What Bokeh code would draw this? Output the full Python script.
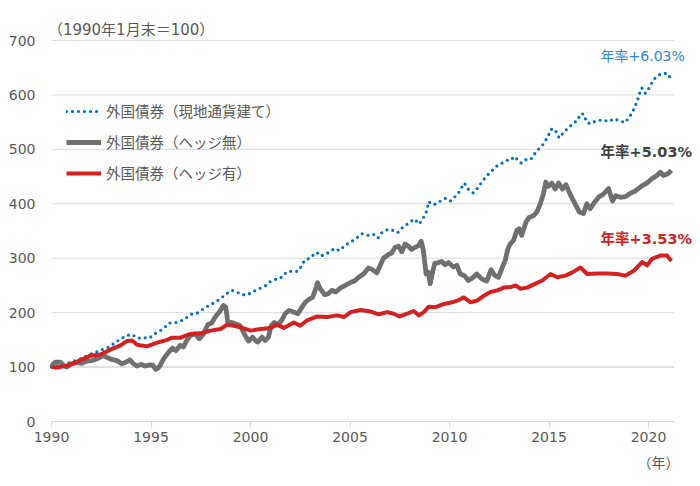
from bokeh.plotting import figure
from bokeh.models import Range1d, FixedTicker, Label, Legend, LegendItem
from bokeh.embed import file_html
from bokeh.resources import INLINE

# ---------------- data ----------------
blue_year = [1990.0, 1990.5, 1991.0, 1991.5, 1992.03, 1992.36, 1992.66, 1992.95, 1993.23, 1993.5,
             1993.79, 1994.04, 1994.34, 1994.62, 1994.91, 1995.18, 1995.46, 1995.68, 1995.91, 1996.18,
             1996.47, 1996.75, 1997.02, 1997.3, 1997.55, 1997.8, 1998.06, 1998.31, 1998.56, 1998.81,
             1999.06, 1999.31, 1999.56, 1999.86, 2000.15, 2000.49, 2000.74, 2000.99, 2001.24, 2001.49,
             2001.71, 2001.88, 2002.16, 2002.38, 2002.55, 2002.71, 2002.91, 2003.13, 2003.33, 2003.53,
             2003.78, 2004.0, 2004.22, 2004.46, 2004.71, 2004.92, 2005.23, 2005.6, 2005.93, 2006.18,
             2006.4, 2006.6, 2006.9, 2007.1, 2007.4, 2007.6, 2007.85, 2008.24, 2008.48, 2008.8,
             2008.9, 2008.95, 2009.2, 2009.45, 2009.78, 2010.05, 2010.3, 2010.47, 2010.64, 2010.75,
             2010.9, 2011.19, 2011.39, 2011.59, 2011.75, 2012.02, 2012.4, 2012.65, 2012.9, 2013.07,
             2013.25, 2013.6, 2013.82, 2014.07, 2014.4, 2014.66, 2014.82, 2014.99, 2015.08, 2015.24,
             2015.39, 2015.51, 2015.73, 2015.98, 2016.23, 2016.45, 2016.57, 2016.73, 2016.9, 2017.07,
             2017.4, 2017.74, 2017.99, 2018.24, 2018.53, 2018.83, 2019.0, 2019.16, 2019.3, 2019.42,
             2019.54, 2019.66, 2019.84, 2020.0, 2020.25, 2020.47, 2020.75, 2020.97, 2021.15]
blue_value = [100, 104, 109, 116, 125, 129, 134, 138, 146, 152,
              158, 160, 153, 154, 153, 161, 167, 173, 181, 181,
              184, 190, 197, 199, 205, 211, 216, 221, 228, 235,
              241, 238, 233, 233, 239, 245, 249, 257, 261, 263,
              271, 276, 276, 276, 285, 296, 299, 305, 311, 304,
              308, 312, 318, 314, 322, 328, 334, 345, 342, 344,
              337, 347, 353, 352, 347, 355, 362, 372, 363, 381,
              394, 404, 398, 403, 410, 405, 414, 421, 432, 438,
              428, 420, 428, 438, 446, 457, 470, 475, 480, 480,
              487, 475, 481, 481, 498, 507, 516, 527, 536, 538,
              531, 521, 531, 540, 548, 554, 565, 565, 550, 547,
              553, 554, 551, 556, 553, 549, 558, 566, 577, 587,
              602, 613, 603, 611, 628, 636, 640, 639, 627]

gray_year = [1990.0, 1990.1, 1990.2, 1990.44, 1990.6, 1990.77, 1991.02, 1991.27, 1991.52, 1991.77,
             1992.03, 1992.28, 1992.44, 1992.61, 1992.78, 1993.03, 1993.28, 1993.53, 1993.73, 1993.95,
             1994.12, 1994.29, 1994.5, 1994.7, 1994.96, 1995.1, 1995.24, 1995.35, 1995.46, 1995.63,
             1995.88, 1996.08, 1996.25, 1996.47, 1996.63, 1996.8, 1996.97, 1997.22, 1997.42, 1997.64,
             1997.85, 1998.05, 1998.23, 1998.43, 1998.64, 1998.76, 1998.86, 1999.06, 1999.26, 1999.48,
             1999.73, 1999.9, 2000.1, 2000.27, 2000.37, 2000.57, 2000.74, 2000.9, 2001.04, 2001.2,
             2001.37, 2001.57, 2001.74, 2001.94, 2002.16, 2002.38, 2002.58, 2002.78, 2002.95, 2003.12,
             2003.25, 2003.37, 2003.5, 2003.72, 2003.92, 2004.09, 2004.29, 2004.51, 2004.76, 2005.01,
             2005.26, 2005.43, 2005.68, 2005.93, 2006.13, 2006.35, 2006.52, 2006.68, 2006.9, 2007.1,
             2007.27, 2007.44, 2007.6, 2007.77, 2007.94, 2008.1, 2008.27, 2008.44, 2008.58, 2008.69,
             2008.78, 2008.82, 2008.94, 2009.03, 2009.15, 2009.25, 2009.45, 2009.61, 2009.78, 2009.95,
             2010.2, 2010.37, 2010.54, 2010.75, 2010.95, 2011.2, 2011.37, 2011.62, 2011.87, 2012.09,
             2012.26, 2012.46, 2012.63, 2012.8, 2012.93, 2013.05, 2013.22, 2013.38, 2013.5, 2013.63,
             2013.84, 2014.0, 2014.22, 2014.39, 2014.56, 2014.72, 2014.84, 2014.97, 2015.14, 2015.31,
             2015.48, 2015.68, 2015.85, 2016.02, 2016.18, 2016.35, 2016.52, 2016.73, 2016.9, 2017.07,
             2017.29, 2017.49, 2017.74, 2017.99, 2018.19, 2018.36, 2018.58, 2018.83, 2019.08, 2019.36,
             2019.63, 2019.91, 2020.17, 2020.42, 2020.59, 2020.75, 2020.97, 2021.15]
gray_value = [100, 106, 109, 109, 103, 100, 106, 108, 107, 111,
              112, 115, 118, 121, 118, 114, 112, 106, 109, 113,
              106, 102, 105, 102, 104, 103, 96, 98, 103, 115,
              127, 135, 130, 140, 137, 149, 158, 161, 152, 161,
              178, 181, 192, 201, 213, 210, 182, 182, 179, 176,
              158, 148, 155, 148, 146, 155, 149, 155, 176, 182,
              178, 186, 198, 204, 201, 198, 210, 220, 225, 228,
              241, 255, 244, 233, 235, 241, 238, 245, 250, 255,
              259, 265, 271, 282, 279, 273, 287, 300, 306, 310,
              320, 322, 312, 326, 322, 316, 320, 323, 331, 314,
              285, 271, 274, 253, 274, 290, 292, 294, 288, 292,
              284, 287, 271, 268, 259, 265, 271, 262, 258, 279,
              269, 265, 281, 296, 317, 326, 333, 351, 354, 342,
              366, 375, 378, 385, 400, 418, 440, 432, 438, 427,
              438, 427, 435, 421, 409, 397, 385, 382, 400, 391,
              403, 412, 418, 428, 405, 415, 412, 413, 419, 424,
              432, 438, 446, 452, 458, 452, 455, 461]

red_year = [1990.0, 1990.28, 1990.8, 1991.29, 1991.96, 1992.46, 1992.96, 1993.47, 1993.8, 1994.05,
            1994.3, 1994.8, 1995.31, 1995.81, 1996.06, 1996.48, 1996.98, 1997.49, 1997.99, 1998.49,
            1998.83, 1999.16, 1999.5, 2000.0, 2000.5, 2001.0, 2001.34, 2001.67, 2002.18, 2002.5,
            2002.85, 2003.35, 2003.85, 2004.36, 2004.7, 2005.03, 2005.53, 2006.03, 2006.45, 2006.87,
            2007.2, 2007.5, 2007.87, 2008.2, 2008.46, 2008.71, 2008.96, 2009.3, 2009.72, 2010.13,
            2010.39, 2010.72, 2011.06, 2011.39, 2011.72, 2012.06, 2012.4, 2012.73, 2013.07, 2013.32,
            2013.57, 2013.9, 2014.24, 2014.66, 2015.08, 2015.41, 2015.83, 2016.17, 2016.58, 2016.92,
            2017.42, 2017.92, 2018.42, 2018.84, 2019.26, 2019.68, 2019.93, 2020.18, 2020.6, 2020.93,
            2021.15]
red_value = [100, 99, 103, 110, 121, 123, 132, 140, 148, 149,
             141, 138, 145, 150, 154, 154, 161, 162, 167, 170,
             178, 176, 173, 167, 170, 172, 178, 172, 182, 176,
             186, 193, 192, 195, 192, 201, 205, 202, 197, 201,
             198, 193, 198, 203, 195, 201, 211, 210, 216, 219,
             222, 228, 219, 222, 231, 238, 241, 246, 247, 250,
             244, 246, 252, 259, 271, 265, 268, 274, 283, 271,
             272, 272, 271, 268, 277, 293, 287, 299, 305, 305,
             295]

series_names = ["外国債券（現地通貨建て）", "外国債券（ヘッジ無）", "外国債券（ヘッジ有）"]
rate_labels = ["年率+6.03%", "年率+5.03%", "年率+3.53%"]
x_ticks = [1990, 1995, 2000, 2005, 2010, 2015, 2020]
y_ticks = [0, 100, 200, 300, 400, 500, 600, 700]
base_value = 100
base_note = "（1990年1月末＝100）"
x_unit = "（年）"

# ---------------- styling ----------------
FONT = "DejaVu Sans, Noto Sans CJK JP"
TXT = "#595959"
GRID = "#d9d9d9"
X0, X1 = 1990, 2021.27          # extent of the axis / grid lines

# the frame covers the whole canvas; both axes are pinned inside it
p = figure(width=700, height=486, output_backend="svg", toolbar_location=None,
           x_range=Range1d(1987.437, 2022.613), y_range=Range1d(-119.4, 773.5),
           min_border_left=0, min_border_right=0, min_border_top=0, min_border_bottom=0)
p.outline_line_color = None
p.background_fill_color = "white"
p.border_fill_color = "white"
p.xgrid.grid_line_color = None
p.ygrid.grid_line_color = None

# horizontal grid lines limited to the plotting period
p.segment(x0=[X0] * len(y_ticks), y0=y_ticks, x1=[X1] * len(y_ticks), y1=y_ticks,
          line_color=GRID, line_width=1, level="underlay")
# slightly heavier reference line at the base value
p.segment(x0=[X0], y0=[base_value], x1=[X1], y1=[base_value],
          line_color="#e0e0e0", line_width=2, level="underlay")

p.xaxis.fixed_location = 0
p.xaxis.bounds = (X0, X1)
p.yaxis.fixed_location = X0
p.yaxis.bounds = (0, 700)
p.xaxis.ticker = FixedTicker(ticks=x_ticks)
p.yaxis.ticker = FixedTicker(ticks=y_ticks)
p.xaxis.axis_line_color = GRID
p.xaxis.major_tick_line_color = GRID
p.xaxis.major_tick_out = 6
p.xaxis.major_tick_in = 0
p.xaxis.minor_tick_line_color = None
p.xaxis.major_label_standoff = 4
p.yaxis.axis_line_color = None
p.yaxis.major_tick_line_color = None
p.yaxis.major_tick_out = 0
p.yaxis.major_tick_in = 0
p.yaxis.minor_tick_line_color = None
p.yaxis.major_label_standoff = 16
for ax in (p.xaxis, p.yaxis):
    ax.major_label_text_font = FONT
    ax.major_label_text_font_size = "14px"
    ax.major_label_text_color = TXT

r_blue = p.line(blue_year, blue_value, line_color="#0070c0", line_width=3.2,
                line_dash="0 6", line_cap="round")
r_gray = p.line(gray_year, gray_value, line_color="#707070", line_width=4.8, line_join="round")
r_red = p.line(red_year, red_value, line_color="#d42020", line_width=4, line_join="round")

legend = Legend(items=[LegendItem(label=series_names[0], renderers=[r_blue]),
                       LegendItem(label=series_names[1], renderers=[r_gray]),
                       LegendItem(label=series_names[2], renderers=[r_red])],
                location=(66, 303), orientation="vertical")
legend.background_fill_alpha = 0
legend.border_line_color = None
legend.padding = 0
legend.margin = 0
legend.spacing = 10
legend.glyph_width = 35
legend.glyph_height = 20
legend.label_height = 20
legend.label_standoff = 5
legend.label_text_font = FONT
legend.label_text_font_size = "14.5px"
legend.label_text_color = TXT
p.add_layout(legend)

p.add_layout(Label(x=2017.59, y=671, text=rate_labels[0], text_font=FONT, text_font_size="14px",
                   text_color="#2e86d4", text_baseline="middle"))
p.add_layout(Label(x=2017.59, y=495, text=rate_labels[1], text_font=FONT, text_font_size="14.5px",
                   text_font_style="bold", text_color="#404040", text_baseline="middle"))
p.add_layout(Label(x=2017.59, y=335, text=rate_labels[2], text_font=FONT, text_font_size="14.5px",
                   text_font_style="bold", text_color="#d42020", text_baseline="middle"))
p.add_layout(Label(x=1989.82, y=720, text=base_note, text_font=FONT, text_font_size="15px",
                   text_color=TXT, text_baseline="middle"))
p.add_layout(Label(x=2021.56, y=-77, text=x_unit, text_font=FONT, text_font_size="14px",
                   text_color=TXT, text_baseline="middle", text_align="right"))

open("out.html", "w").write(file_html(p, INLINE))
